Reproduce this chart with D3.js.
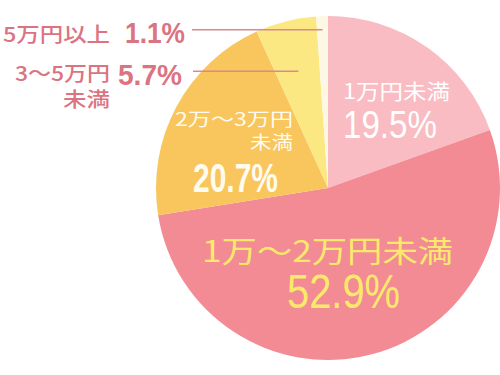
<!DOCTYPE html>
<html><head><meta charset="utf-8">
<script src="https://cdn.jsdelivr.net/npm/d3@7"></script>
<style>body{margin:0;background:#fff}svg{display:block}</style>
</head><body>
<svg id="c" width="500" height="375"></svg>
<script>
const categories = ["1万円未満", "1万〜2万円未満", "2万〜3万円未満", "3〜5万円未満", "5万円以上"];
const values = [19.5, 52.9, 20.7, 5.7, 1.1];
const valueLabels = ["19.5%", "52.9%", "20.7%", "5.7%", "1.1%"];
const colors = ["#f9bcc3", "#f28b94", "#f9c55d", "#fbe883", "#fdf8e4"];

const svg = d3.select("#c");
const cx = 328, cy = 188, R = 172;
const g = svg.append("g").attr("transform", `translate(${cx},${cy})`);
const pie = d3.pie().sort(null).value(d => d)(values);
const arc = d3.arc().innerRadius(0).outerRadius(R);
g.selectAll("path.slice").data(pie).join("path").attr("class","slice")
  .attr("d", arc).attr("fill", (d,i) => colors[i]);

const CJK = "'Noto Sans CJK JP', 'Noto Sans', sans-serif";
const NUM = "'Liberation Sans', Arial, sans-serif";
const outCol = "#dc7380";

// one <text> per label, lines as tspans
function label(fill, lines) {
  const t = svg.append("text").attr("fill", fill);
  lines.forEach(l => {
    const s = t.append("tspan").attr("x", l.x).attr("y", l.y).text(l.s)
      .attr("font-family", l.num ? NUM : CJK).attr("font-size", l.size)
      .attr("font-weight", l.w || 400).attr("text-anchor", l.a || "start");
    if (l.len) s.attr("textLength", l.len).attr("lengthAdjust", "spacingAndGlyphs");
  });
  return t;
}

// leader lines for small slices
function leader(i, rf, x0) {
  const a = (pie[i].startAngle + pie[i].endAngle) / 2;
  const px = cx + Math.sin(a) * R * rf, py = cy - Math.cos(a) * R * rf;
  svg.append("line").attr("x1", x0).attr("x2", px).attr("y1", py).attr("y2", py)
    .attr("stroke", "#d98a8f").attr("stroke-width", 1.5);
}
leader(4, 0.92, 192);
leader(3, 0.70, 193);

// outside labels
label(outCol, [
  {x: 3, y: 42, s: "5万円以上", size: 20, w: 500, len: 107},
  {x: 125, y: 43, s: valueLabels[4], size: 29, w: 700, num: true, len: 60}
]);
label(outCol, [
  {x: 110, y: 81, s: "3〜5万円", size: 20, w: 500, a: "end", len: 95},
  {x: 110, y: 107, s: "未満", size: 20, w: 500, a: "end", len: 47},
  {x: 118, y: 85, s: valueLabels[3], size: 29, w: 700, num: true, len: 64}
]);

// inside labels
label("#ffffff", [
  {x: 343, y: 99, s: "1万円未満", size: 21, len: 107},
  {x: 343, y: 138, s: valueLabels[0], size: 39, num: true, len: 94}
]);
label("#fffbee", [
  {x: 293, y: 126, s: "2万〜3万円", size: 18, a: "end", len: 118},
  {x: 293, y: 149, s: "未満", size: 18, a: "end", len: 43},
  {x: 193, y: 192, s: valueLabels[2], size: 40, w: 700, num: true, len: 85}
]);
label("#fbe96c", [
  {x: 202, y: 262, s: "1万〜2万円未満", size: 30, len: 251},
  {x: 287, y: 308, s: valueLabels[1], size: 49, num: true, len: 113}
]);
</script>
</body></html>
